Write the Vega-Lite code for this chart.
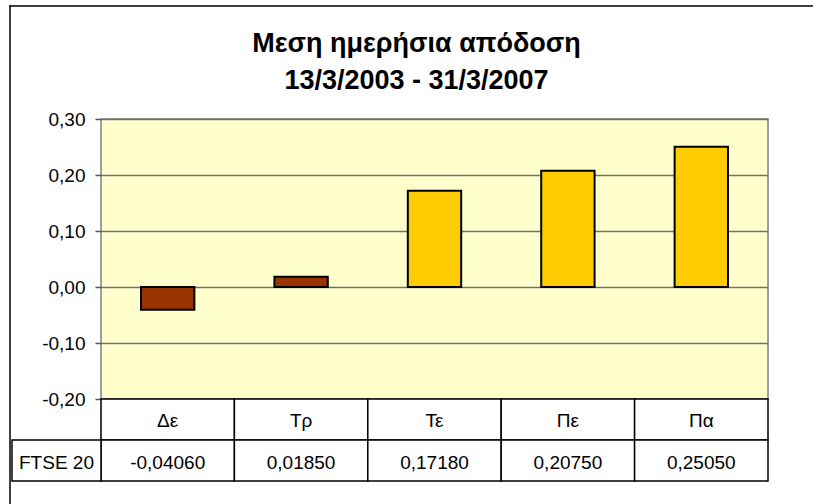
{
  "$schema": "https://vega.github.io/schema/vega-lite/v6.json",
  "width": 667,
  "height": 280,
  "autosize": {"type": "none"},
  "padding": {"left": 101, "top": 119, "right": 45, "bottom": 105},
  "background": "white",
  "config": {
    "font": "Liberation Sans",
    "view": {"fill": "#FFFFCC", "stroke": "#808080", "strokeWidth": 1.5}
  },
  "title": {
    "text": ["Μεση ημερήσια απόδοση", "13/3/2003 - 31/3/2007"],
    "fontSize": 27,
    "fontWeight": "bold",
    "font": "Liberation Sans",
    "color": "black",
    "anchor": "middle",
    "dx": -18,
    "lineHeight": 37,
    "offset": -90
  },
  "data": {
    "values": [
      {"cat": "Δε", "value": -0.0406, "label": "-0,04060"},
      {"cat": "Τρ", "value": 0.0185, "label": "0,01850"},
      {"cat": "Τε", "value": 0.1718, "label": "0,17180"},
      {"cat": "Πε", "value": 0.2075, "label": "0,20750"},
      {"cat": "Πα", "value": 0.2505, "label": "0,25050"}
    ]
  },
  "layer": [
    {
      "data": {"values": [{"k": "left"}]},
      "mark": {"type": "rect", "fill": "black"},
      "encoding": {
        "x": {"field": "k", "type": "nominal", "scale": {"domain": ["left"], "range": [-91.75, -90.25], "paddingInner": 0, "paddingOuter": 0}, "axis": null},
        "y": {"field": "k", "type": "nominal", "scale": {"domain": ["left"], "range": [-113.75, 430], "paddingInner": 0, "paddingOuter": 0}, "axis": null}
      }
    },
    {
      "data": {"values": [{"k": "top"}]},
      "mark": {"type": "rect", "fill": "black"},
      "encoding": {
        "x": {"field": "k", "type": "nominal", "scale": {"domain": ["top"], "range": [-91.75, 760], "paddingInner": 0, "paddingOuter": 0}, "axis": null},
        "y": {"field": "k", "type": "nominal", "scale": {"domain": ["top"], "range": [-113.75, -112.25], "paddingInner": 0, "paddingOuter": 0}, "axis": null}
      }
    },
    {
      "mark": {"type": "bar", "width": {"band": 0.4}, "stroke": "black", "strokeWidth": 2},
      "encoding": {
        "x": {"field": "cat", "type": "nominal", "scale": {"domain": ["Δε", "Τρ", "Τε", "Πε", "Πα"], "paddingInner": 0, "paddingOuter": 0}, "axis": null},
        "y": {
          "field": "value",
          "type": "quantitative",
          "scale": {"domain": [-0.2, 0.3], "nice": false},
          "axis": {
            "values": [-0.2, -0.1, 0, 0.1, 0.2, 0.3],
            "grid": true,
            "gridColor": "#707070",
            "gridWidth": 1.5,
            "domain": false,
            "tickColor": "#555555",
            "tickSize": 6,
            "tickWidth": 1.5,
            "labelFontSize": 19,
            "labelColor": "black",
            "labelPadding": 10,
            "labelFont": "Liberation Sans",
            "title": null,
            "labelExpr": "(datum.value < -0.0001 ? '-' : '') + replace(format(abs(datum.value), '.2f'), '.', ',')"
          }
        },
        "color": {
          "field": "cat",
          "type": "nominal",
          "scale": {"domain": ["Δε", "Τρ", "Τε", "Πε", "Πα"], "range": ["#993300", "#993300", "#FFCC00", "#FFCC00", "#FFCC00"]},
          "legend": null
        }
      }
    },
    {
      "mark": {"type": "rect", "fill": "white", "stroke": "black", "strokeWidth": 1.5},
      "encoding": {
        "x": {"field": "cat", "type": "nominal", "scale": {"domain": ["Δε", "Τρ", "Τε", "Πε", "Πα"], "paddingInner": 0, "paddingOuter": 0}, "axis": null},
        "y": {"datum": "H", "type": "nominal", "scale": {"domain": ["H", "D"], "range": [280, 362], "paddingInner": 0, "paddingOuter": 0}, "axis": null}
      }
    },
    {
      "mark": {"type": "rect", "fill": "white", "stroke": "black", "strokeWidth": 1.5},
      "encoding": {
        "x": {"field": "cat", "type": "nominal", "scale": {"domain": ["Δε", "Τρ", "Τε", "Πε", "Πα"], "paddingInner": 0, "paddingOuter": 0}, "axis": null},
        "y": {"datum": "D", "type": "nominal", "scale": {"domain": ["H", "D"], "range": [280, 362], "paddingInner": 0, "paddingOuter": 0}, "axis": null}
      }
    },
    {
      "mark": {"type": "text", "fontSize": 19, "font": "Liberation Sans", "color": "black", "dy": 1},
      "encoding": {
        "x": {"field": "cat", "type": "nominal", "scale": {"domain": ["Δε", "Τρ", "Τε", "Πε", "Πα"], "paddingInner": 0, "paddingOuter": 0}, "axis": null},
        "y": {"datum": "H", "type": "nominal", "scale": {"domain": ["H", "D"], "range": [280, 362], "paddingInner": 0, "paddingOuter": 0}, "axis": null},
        "text": {"field": "cat", "type": "nominal"}
      }
    },
    {
      "mark": {"type": "text", "fontSize": 19, "font": "Liberation Sans", "color": "black", "dy": 2},
      "encoding": {
        "x": {"field": "cat", "type": "nominal", "scale": {"domain": ["Δε", "Τρ", "Τε", "Πε", "Πα"], "paddingInner": 0, "paddingOuter": 0}, "axis": null},
        "y": {"datum": "D", "type": "nominal", "scale": {"domain": ["H", "D"], "range": [280, 362], "paddingInner": 0, "paddingOuter": 0}, "axis": null},
        "text": {"field": "label", "type": "nominal"}
      }
    },
    {
      "data": {"values": [{"s": "FTSE 20"}]},
      "mark": {"type": "rect", "fill": "white", "stroke": "black", "strokeWidth": 1.5},
      "encoding": {
        "x": {"field": "s", "type": "nominal", "scale": {"domain": ["FTSE 20"], "range": [-89, 0], "paddingInner": 0, "paddingOuter": 0}, "axis": null},
        "y": {"datum": "D", "type": "nominal", "scale": {"domain": ["H", "D"], "range": [280, 362], "paddingInner": 0, "paddingOuter": 0}, "axis": null}
      }
    },
    {
      "data": {"values": [{"s": "FTSE 20"}]},
      "mark": {"type": "text", "fontSize": 19, "font": "Liberation Sans", "color": "black", "dy": 2},
      "encoding": {
        "x": {"field": "s", "type": "nominal", "scale": {"domain": ["FTSE 20"], "range": [-89, 0], "paddingInner": 0, "paddingOuter": 0}, "axis": null},
        "y": {"datum": "D", "type": "nominal", "scale": {"domain": ["H", "D"], "range": [280, 362], "paddingInner": 0, "paddingOuter": 0}, "axis": null},
        "text": {"field": "s", "type": "nominal"}
      }
    }
  ],
  "resolve": {"scale": {"x": "independent", "y": "independent", "color": "independent"}}
}
